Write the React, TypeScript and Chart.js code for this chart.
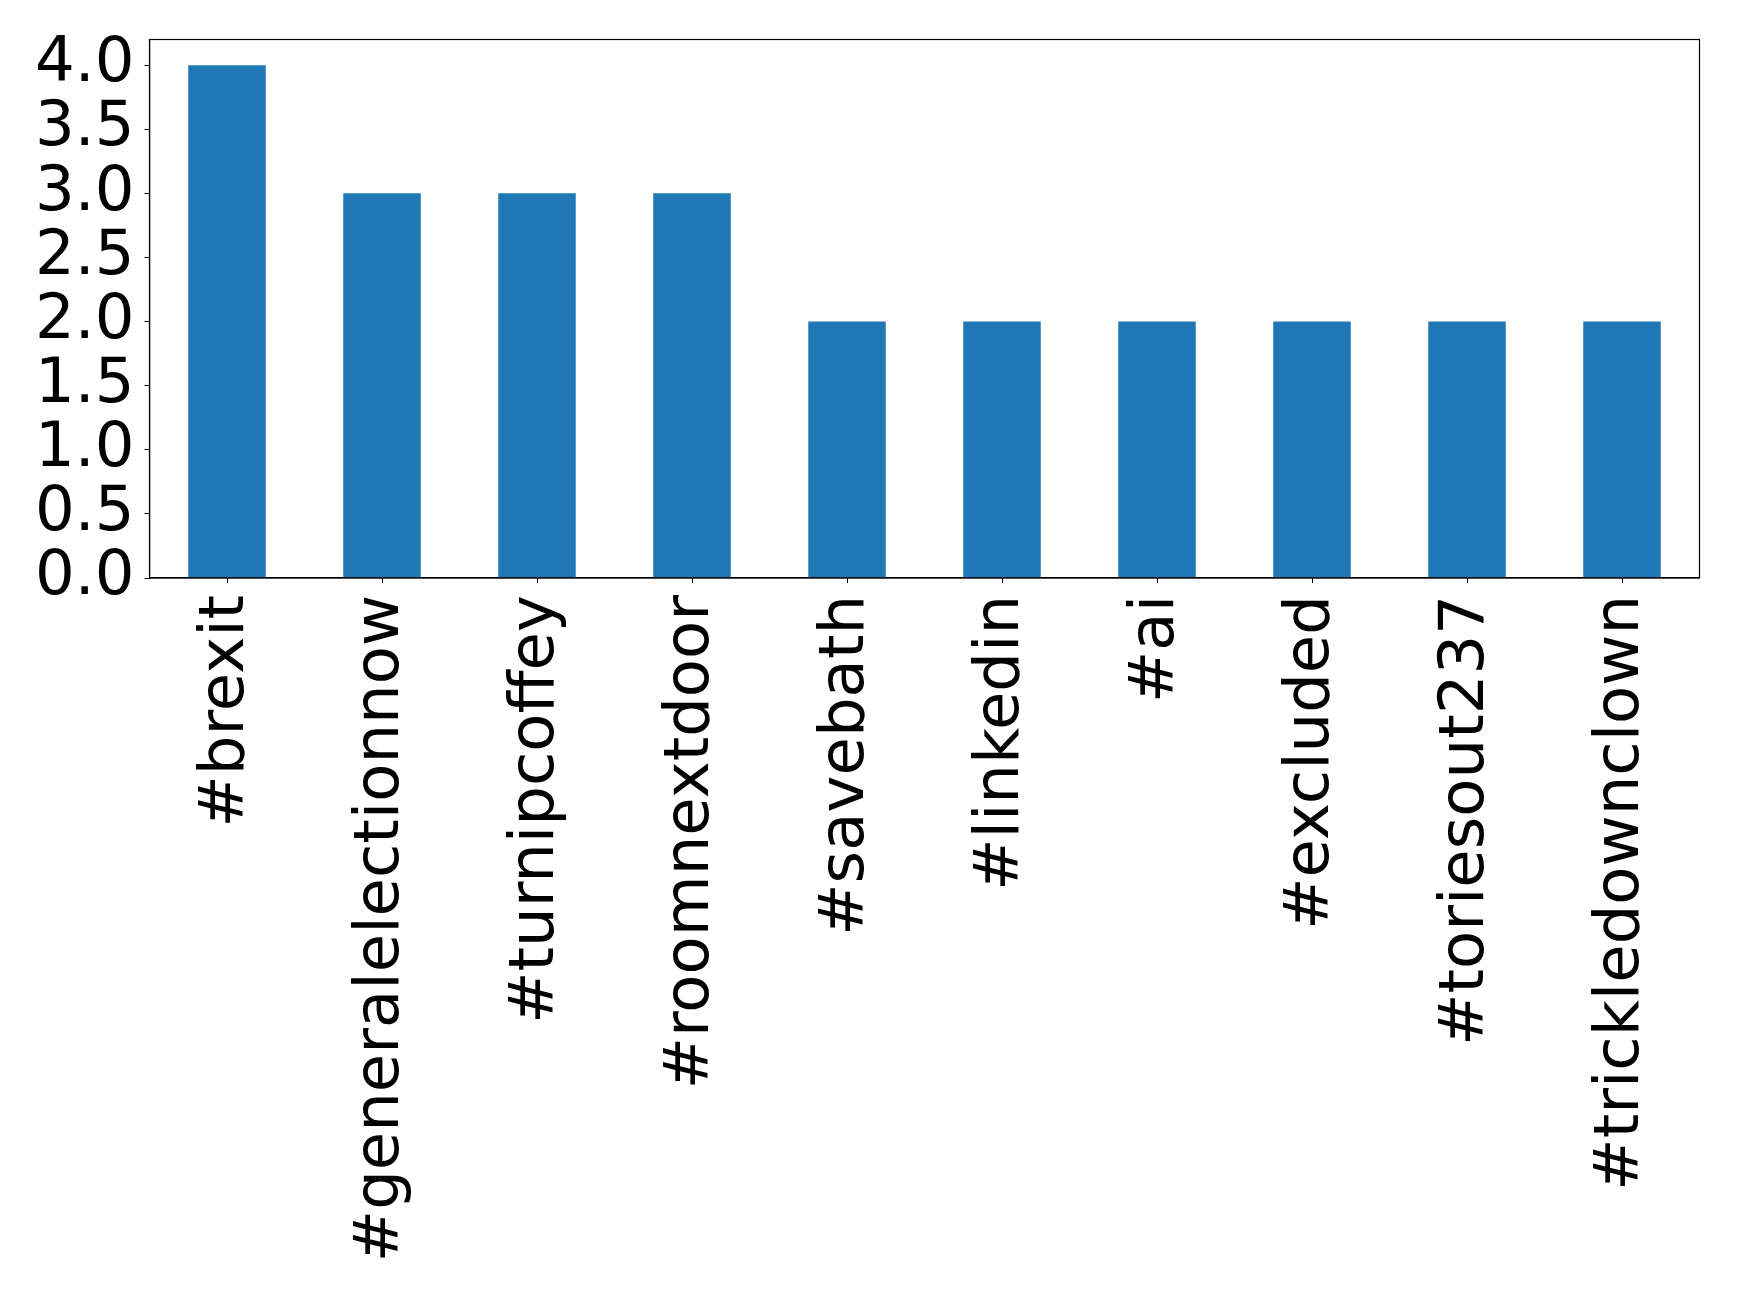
import React, { useEffect, useRef } from "react";
import { Chart, registerables } from "chart.js";

Chart.register(...registerables);

const categories = [
  "#brexit",
  "#generalelectionnow",
  "#turnipcoffey",
  "#roomnextdoor",
  "#savebath",
  "#linkedin",
  "#ai",
  "#excluded",
  "#toriesout237",
  "#trickledownclown",
];
const counts = [4, 3, 3, 3, 2, 2, 2, 2, 2, 2];
const yTicks = [0, 0.5, 1.0, 1.5, 2.0, 2.5, 3.0, 3.5, 4.0];

const frame = {
  id: "frame",
  afterDraw(chart: any) {
    const { ctx, chartArea } = chart;
    ctx.save();
    ctx.strokeStyle = "#000";
    ctx.lineWidth = 1.2;
    ctx.strokeRect(chartArea.left, chartArea.top, chartArea.right - chartArea.left, chartArea.bottom - chartArea.top);
    ctx.restore();
  },
};

export default function App() {
  const ref = useRef<HTMLCanvasElement | null>(null);
  useEffect(() => {
    document.body.style.margin = "0";
    const font = { family: "DejaVu Sans", size: 62.5 };
    const chart = new Chart(ref.current as HTMLCanvasElement, {
      type: "bar",
      data: {
        labels: categories,
        datasets: [
          {
            data: counts,
            backgroundColor: "#1f77b4",
            categoryPercentage: 1,
            barPercentage: 0.5,
          },
        ],
      },
      plugins: [frame],
      options: {
        animation: false,
        responsive: false,
        maintainAspectRatio: false,
        layout: { padding: { left: 0, right: 39.5, top: 39.5, bottom: 0 } },
        plugins: { legend: { display: false }, tooltip: { enabled: false } },
        scales: {
          x: {
            offset: true,
            grid: { display: true, offset: false, drawOnChartArea: false, drawTicks: true, tickLength: 5, color: "#000" },
            border: { display: true, color: "#000", width: 1.2 },
            ticks: { color: "#000", font, maxRotation: 90, minRotation: 90, padding: 12, autoSkip: false },
            afterFit: (s: any) => {
              s.height = 1295 - 578;
              s.paddingLeft = 0;
              s.paddingRight = 0;
            },
          },
          y: {
            min: 0,
            max: 4.2,
            grid: { display: true, drawOnChartArea: false, drawTicks: true, tickLength: 5, color: "#000" },
            border: { display: true, color: "#000", width: 1.2 },
            ticks: {
              color: "#000",
              font,
              padding: 10,
              autoSkip: false,
              callback: (v: any) => Number(v).toFixed(1),
            },
            afterBuildTicks: (s: any) => {
              s.ticks = yTicks.map((v) => ({ value: v }));
            },
            afterFit: (s: any) => {
              s.width = 149.5;
              s.paddingTop = 0;
              s.paddingBottom = 0;
            },
          },
        },
      },
    });
    return () => chart.destroy();
  }, []);
  return <canvas ref={ref} width={1739} height={1295} style={{ display: "block" }} />;
}
